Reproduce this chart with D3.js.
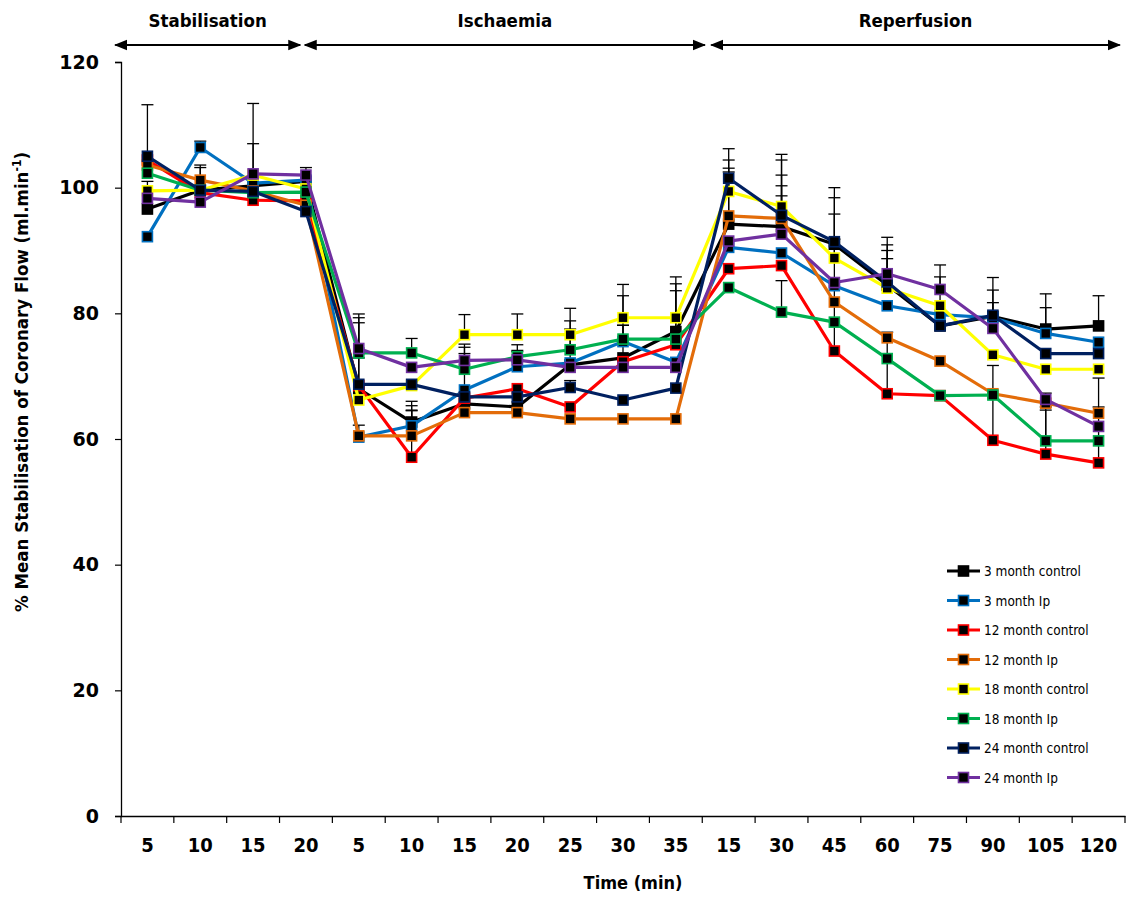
<!DOCTYPE html>
<html><head><meta charset="utf-8">
<script src="https://cdn.jsdelivr.net/npm/d3@7"></script>
<style>html,body{margin:0;padding:0;background:#fff;}svg{display:block;}</style>
</head><body>
<svg id="chart" width="1129" height="897"></svg>
<script>
// ---------- data ----------
const categories = ["5","10","15","20","5","10","15","20","25","30","35","15","30","45","60","75","90","105","120"];
const yTicks = [0,20,40,60,80,100,120];
const seriesNames = ["3 month control","3 month Ip","12 month control","12 month Ip","18 month control","18 month Ip","24 month control","24 month Ip"];
const seriesColors = ["#000000","#0070C0","#FF0000","#E36C09","#FFFF00","#00B050","#002060","#7030A0"];

const m3Control  = [96.6, 99.6,100.3,101.0, 68.0,62.7,65.6,65.1,71.8,72.9,77.1, 94.2,93.8,91.0,84.5,78.0,79.5,77.5,78.0];
const m3Ip       = [92.2,106.4,100.7,101.2, 60.3,62.1,67.8,71.5,72.1,75.5,72.2, 90.5,89.6,84.4,81.2,79.8,79.3,76.8,75.4];
const m12Control = [104.4,99.2, 98.0, 97.9, 68.5,57.1,66.5,68.0,65.1,72.3,75.0, 87.1,87.6,74.0,67.2,66.9,59.8,57.6,56.2];
const m12Ip      = [103.6,101.2,99.5, 97.2, 60.5,60.5,64.2,64.2,63.2,63.2,63.2, 95.5,95.1,81.8,76.1,72.4,67.2,65.7,64.1];
const m18Control = [99.5, 99.6,102.0, 99.8, 66.2,68.5,76.6,76.6,76.6,79.3,79.3, 99.4,97.0,88.8,84.0,81.2,73.4,71.1,71.1];
const m18Ip      = [102.3,99.6, 99.2, 99.3, 73.7,73.7,71.1,73.1,74.2,75.9,75.9, 84.1,80.2,78.6,72.8,66.9,67.0,59.7,59.7];
const m24Control = [105.0,99.6, 99.4, 96.2, 68.7,68.7,66.7,66.7,68.2,66.2,68.1, 101.5,95.6,91.4,85.0,78.0,79.7,73.6,73.6];
const m24Ip      = [98.3, 97.7,102.2,102.0, 74.4,71.4,72.5,72.6,71.4,71.4,71.4, 91.5,92.6,84.9,86.3,83.8,77.6,66.3,62.0];

// upper error (SEM), 0 = not drawn
const m3ControlErr  = [4.4,3.6,0,0, 4.9,3.3,0,0,0,5.2,7.6, 8.3,6.5,7.4,5.5,0,4.2,5.6,4.8];
const m3IpErr       = [0,1.0,0,0, 0,3.2,5.8,2.4,5.4,2.6,0, 0,0,0,0,0,2.4,4.1,0];
const m12ControlErr = [0,0,0,0, 0,7.5,0,0,0,0,0, 0,0,17.8,9.8,0,11.9,7.5,8.9];
const m12IpErr      = [0,2.4,0,0, 1.7,4.0,0,0,0,0,0, 7.6,6.9,0,0,0,0,0,5.6];
const m18ControlErr = [0,0,5.0,0, 0,0,3.2,3.3,4.2,5.3,6.5, 5.0,8.3,7.0,4.7,4.6,0,0,0];
const m18IpErr      = [0,0,0,0, 5.6,2.3,3.5,1.0,4.6,6.9,7.7, 0,5.0,0,0,0,0,4.9,0];
const m24ControlErr = [8.2,0,0,0, 9.8,0,0,0,1.1,0,0, 4.7,8.8,8.6,5.9,0,6.0,0,0];
const m24IpErr      = [0,0,11.2,1.2, 5.5,0,2.6,2.4,0,0,0, 0,6.1,0,5.8,3.9,0,1.0,0];

const phases = ["Stabilisation","Ischaemia","Reperfusion"];

const seriesValues = [m3Control,m3Ip,m12Control,m12Ip,m18Control,m18Ip,m24Control,m24Ip];
const seriesErrors = [m3ControlErr,m3IpErr,m12ControlErr,m12IpErr,m18ControlErr,m18IpErr,m24ControlErr,m24IpErr];

// ---------- drawing ----------
const svg = d3.select("#chart");
const F = "'DejaVu Sans Condensed','DejaVu Sans',sans-serif";
const L = 121, R = 1125, T = 62, B = 816;

const x = d3.scaleBand().domain(d3.range(categories.length)).range([L, R]).padding(0);
const y = d3.scaleLinear().domain([0,120]).range([B, T]);
const cx = i => x(i) + x.bandwidth()/2;

// y axis
const yAxis = d3.axisLeft(y).tickValues(yTicks).tickSize(6).tickFormat(d3.format("d"));
const gy = svg.append("g").attr("transform", `translate(${L},0)`).call(yAxis);
gy.select(".domain").attr("stroke","#000").attr("stroke-width",1.3);
gy.selectAll(".tick line").attr("stroke","#000").attr("stroke-width",1.2);
gy.selectAll(".tick text").attr("font-family","'DejaVu Sans',sans-serif").attr("font-weight","bold")
  .attr("font-size",19).attr("fill","#000").attr("x",-22);

// x axis
const xAxis = d3.axisBottom(x).tickSize(0).tickFormat(i => categories[i]);
const gx = svg.append("g").attr("transform", `translate(0,${B})`).call(xAxis);
gx.select(".domain").attr("stroke","#000").attr("stroke-width",1.3);
gx.selectAll(".tick text").attr("font-family",F).attr("font-weight","bold")
  .attr("font-size",20).attr("fill","#000").attr("dy","0").attr("y",36);
// boundary tick marks
const edges = d3.range(categories.length + 1).map(i => L + i * x.bandwidth());
gx.selectAll("line.edge").data(edges).join("line").attr("class","edge")
  .attr("x1",d=>d).attr("x2",d=>d).attr("y1",0).attr("y2",7)
  .attr("stroke","#000").attr("stroke-width",1.2);

// axis titles
svg.append("text").attr("x",(L+R)/2+10).attr("y",889).attr("text-anchor","middle")
  .attr("font-family",F).attr("font-weight","bold").attr("font-size",18).text("Time (min)");
const yt = svg.append("text").attr("transform",`translate(28,382) rotate(-90)`)
  .attr("text-anchor","middle").attr("font-family",F).attr("font-weight","bold").attr("font-size",18.5);
yt.append("tspan").text("% Mean Stabilisation of Coronary Flow (ml.min");
yt.append("tspan").attr("font-size",12).attr("dy",-7).text("-1");
yt.append("tspan").attr("dy",7).text(")");

// phase header arrows
const defs = svg.append("defs");
defs.append("marker").attr("id","ah").attr("viewBox","0 0 10 10").attr("refX",9).attr("refY",5)
  .attr("markerWidth",6).attr("markerHeight",6).attr("orient","auto-start-reverse")
  .append("path").attr("d","M0,1 L10,5 L0,9 Z").attr("fill","#000");
// phase spans in category-index units
const phaseStart = [-0.61, 2.98, 10.67];
const phaseEnd   = [2.89, 10.55, 18.40];
const xi = v => L + (v + 0.5) * x.bandwidth();
phases.forEach((p,k) => {
  svg.append("line").attr("x1",xi(phaseStart[k])).attr("x2",xi(phaseEnd[k])).attr("y1",45).attr("y2",45)
    .attr("stroke","#000").attr("stroke-width",2.2)
    .attr("marker-start","url(#ah)").attr("marker-end","url(#ah)");
  svg.append("text").attr("x",(xi(phaseStart[k])+xi(phaseEnd[k]))/2).attr("y",27).attr("text-anchor","middle")
    .attr("font-family",F).attr("font-weight","bold").attr("font-size",18.5).text(p);
});

// error bars
const eg = svg.append("g");
seriesValues.forEach((vals,s) => {
  vals.forEach((v,i) => {
    const e = seriesErrors[s][i];
    if (!e) return;
    const px = cx(i);
    eg.append("line").attr("x1",px).attr("x2",px).attr("y1",y(v)).attr("y2",y(v+e))
      .attr("stroke","#000").attr("stroke-width",1.3);
    eg.append("line").attr("x1",px-6).attr("x2",px+6).attr("y1",y(v+e)).attr("y2",y(v+e))
      .attr("stroke","#000").attr("stroke-width",1.3);
  });
});

// series lines + markers
const line = d3.line().x((d,i)=>cx(i)).y(d=>y(d));
seriesValues.forEach((vals,s) => {
  const g = svg.append("g");
  g.append("path").datum(vals).attr("d",line).attr("fill","none")
    .attr("stroke",seriesColors[s]).attr("stroke-width",3.2).attr("stroke-linejoin","round");
  g.selectAll("rect").data(vals).join("rect")
    .attr("x",(d,i)=>cx(i)-5).attr("y",d=>y(d)-5).attr("width",10).attr("height",10)
    .attr("fill","#000").attr("stroke",seriesColors[s]).attr("stroke-width",1.6);
});

// legend
const lg = svg.append("g").attr("transform","translate(947,571)");
seriesNames.forEach((n,s) => {
  const g = lg.append("g").attr("transform",`translate(0,${s*29.5})`);
  g.append("line").attr("x1",0).attr("x2",33).attr("y1",0).attr("y2",0)
    .attr("stroke",seriesColors[s]).attr("stroke-width",3.2);
  g.append("rect").attr("x",11.5).attr("y",-5).attr("width",10).attr("height",10)
    .attr("fill","#000").attr("stroke",seriesColors[s]).attr("stroke-width",1.6);
  g.append("text").attr("x",37).attr("y",5).attr("font-family",F).attr("font-size",13.5)
    .attr("fill","#000").text(n);
});
</script>
</body></html>
